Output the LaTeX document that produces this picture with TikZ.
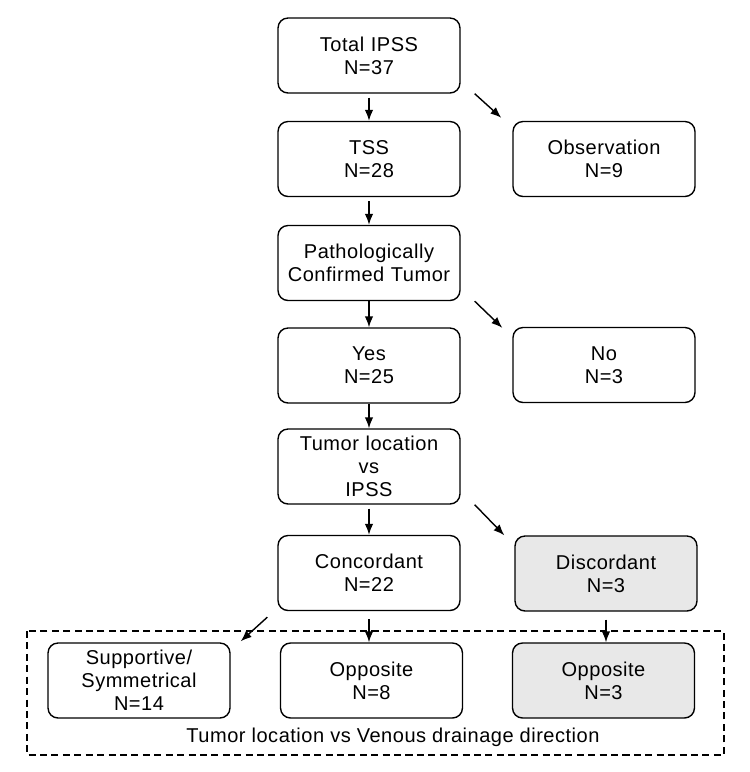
\documentclass[tikz,border=0pt]{standalone}
\usepackage{fontspec}
\setmainfont[LetterSpace=2.5]{Liberation Sans}
\usepackage{tikz}
\usetikzlibrary{positioning,arrows.meta}

\begin{document}
\begin{tikzpicture}[
      x=0.02cm, y=-0.02cm,
      >={Latex[length=2.2mm,width=1.7mm]},
      every node/.style={font=\fontsize{11.4}{13.2}\selectfont},
      flowbox/.style={draw, line width=0.8pt, rounded corners=0.2cm, fill=white, minimum width=3.64cm, minimum height=1.5cm, text width=3.5cm, align=center, inner sep=0pt},
      greybox/.style={flowbox, fill=gray!18},
      link/.style={->, line width=0.8pt}
    ]
      \useasboundingbox (0,0) rectangle (750,772);

      % main column
      \node[flowbox] (total) at (369,55.5) {Total IPSS\\N=37};
      \node[flowbox] (tss) at (369,159) {TSS\\N=28};
      \node[flowbox] (patho) at (369,263) {Pathologically\\Confirmed Tumor};
      \node[flowbox] (yes) at (369,365.5) {Yes\\N=25};
      \node[flowbox] (loc) at (369,466.5) {Tumor location\\vs\\IPSS};
      \node[flowbox] (conc) at (369,573) {Concordant\\N=22};

      % side column
      \node[flowbox] (obs) at (604,159) {Observation\\N=9};
      \node[flowbox] (no) at (604,365) {No\\N=3};
      \node[greybox] (disc) at (606,573.5) {Discordant\\N=3};

      % venous drainage group
      \draw[dash pattern=on 4pt off 2.5pt, line width=0.8pt] (27,631) rectangle (724,755);
      \node[flowbox] (supp) at (139,680.5) {Supportive/\\Symmetrical\\N=14};
      \node[flowbox] (opp) at (371.5,680.5) {Opposite\\N=8};
      \node[greybox] (oppd) at (603.5,680.5) {Opposite\\N=3};
      \node (drain) at (393,737) {Tumor location vs Venous drainage direction};

      % arrows down
      \draw[link] ([yshift=-0.08cm]total.south) -- (tss.north);
      \draw[link] ([yshift=-0.08cm]tss.south) -- (patho.north);
      \draw[link] (patho.south) -- (yes.north);
      \draw[link] (yes.south) -- (loc.north);
      \draw[link] ([yshift=-0.08cm]loc.south) -- (conc.north);
      \draw[link] ([yshift=-0.16cm]conc.south) -- (conc.south |- opp.north);
      \draw[link] ([yshift=-0.16cm]disc.south) -- (disc.south |- oppd.north);

      % arrows aside
      \draw[link] ([xshift=0.28cm]total.south east) -- ([xshift=-0.22cm,yshift=0.06cm]obs.north west);
      \draw[link] ([xshift=0.28cm]patho.south east) -- ([xshift=-0.2cm,yshift=-0.02cm]no.north west);
      \draw[link] ([xshift=0.28cm]loc.south east) -- ([xshift=-0.2cm,yshift=0.0cm]disc.north west);
      \draw[link] ([xshift=-0.2cm,yshift=-0.12cm]conc.south west) -- ([xshift=0.2cm,yshift=0.02cm]supp.north east);
    \end{tikzpicture}
\end{document}
